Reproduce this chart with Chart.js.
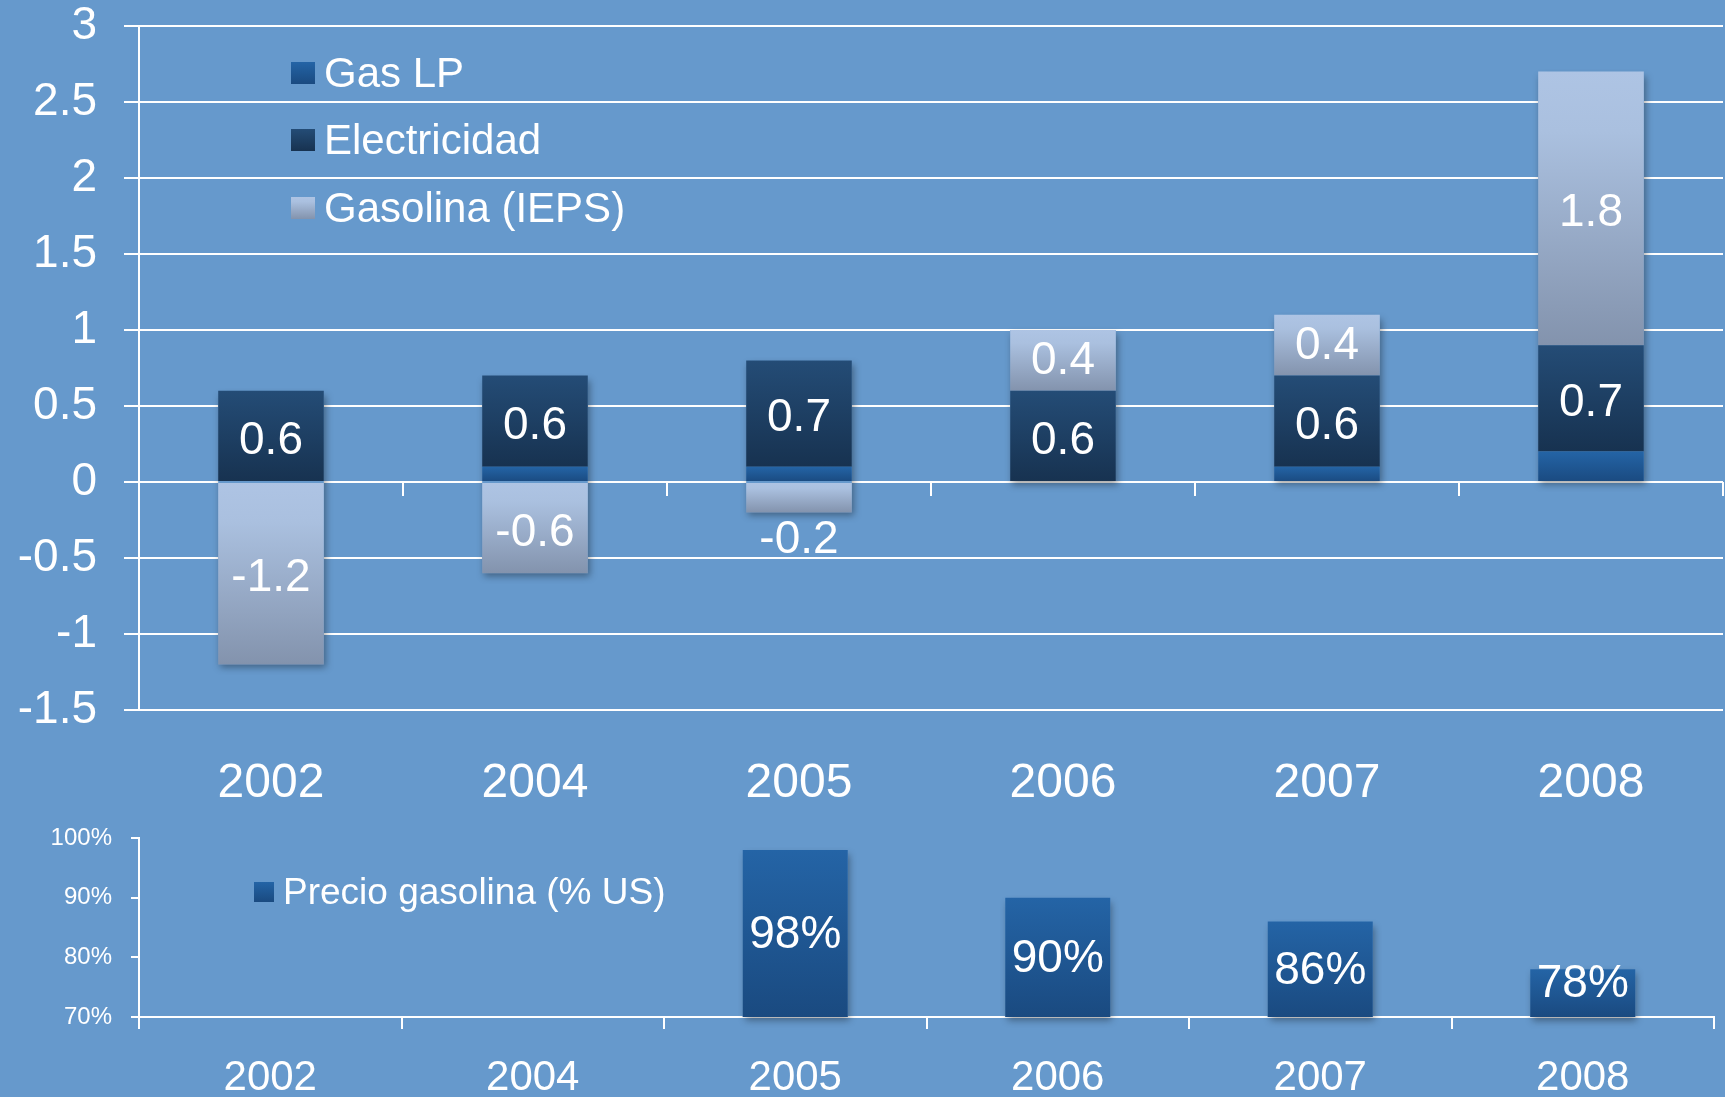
<!DOCTYPE html>
<html>
<head>
<meta charset="utf-8">
<script src="https://cdn.jsdelivr.net/npm/chart.js@4/dist/chart.umd.min.js"></script>
<style>
  html, body { margin: 0; padding: 0; background: #6699cc; overflow: hidden; }
  #wrap { position: relative; width: 1725px; height: 1097px; font-family: "Liberation Sans", Arial, sans-serif; color: #fff; }
  #topChart { position: absolute; left: 0; top: 0; }
  #bottomChart { position: absolute; left: 0; top: 800px; }
  .legend { position: absolute; }
  .legend .item { display: flex; align-items: center; white-space: nowrap; }
  .legend .box { display: inline-block; margin-right: 9px; }
  #topLegend { left: 291px; top: 39px; font-size: 42px; }
  #topLegend .item { height: 67.5px; }
  #topLegend .box { width: 24px; height: 22px; }
  #bottomLegend { left: 254px; top: 870px; font-size: 37px; }
  #bottomLegend .item { height: 44px; }
  #bottomLegend .box { width: 20px; height: 20px; }
</style>
</head>
<body>
<div id="wrap">
  <canvas id="topChart" width="1725" height="800"></canvas>
  <canvas id="bottomChart" width="1725" height="297"></canvas>
  <div class="legend" id="topLegend"></div>
  <div class="legend" id="bottomLegend"></div>
</div>
<script>
// data
const years = ['2002', '2004', '2005', '2006', '2007', '2008'];
const gasLP = [0, 0.1, 0.1, 0, 0.1, 0.2];
const electricidad = [0.6, 0.6, 0.7, 0.6, 0.6, 0.7];
const gasolinaIEPS = [-1.2, -0.6, -0.2, 0.4, 0.4, 1.8];
const precioGasolina = [null, null, 0.98, 0.90, 0.86, 0.78];
const topTicks = [-1.5, -1, -0.5, 0, 0.5, 1, 1.5, 2, 2.5, 3];
const bottomTicks = [0.7, 0.8, 0.9, 1.0];

// colour ramps, top -> bottom of each bar
const rampGasLP = [[0, '#2464a6'], [1, '#1a4a80']];
const rampElec = [[0, '#244c76'], [1, '#173250']];
const rampGasolina = [[0, '#aec4e4'], [0.22, '#aac0df'], [1, '#8393ad']];

function cssRamp(stops) {
  return 'linear-gradient(to bottom,' + stops.map(s => s[1] + ' ' + (s[0] * 100) + '%').join(',') + ')';
}

// gradient for one bar segment, built from the value scale
function segmentFill(stops) {
  return function (c) {
    const chart = c.chart;
    const y = chart.scales.y;
    const v = c.raw;
    if (!y || v === null || v === undefined) return stops[0][1];
    let base = 0;
    const stacked = chart.options.scales.y.stacked;
    if (stacked) {
      for (let i = 0; i < c.datasetIndex; i++) {
        const o = chart.data.datasets[i].data[c.dataIndex] || 0;
        if ((o < 0) === (v < 0)) base += o;
      }
    } else {
      base = y.getBaseValue();
    }
    const p1 = y.getPixelForValue(base);
    const p2 = y.getPixelForValue(stacked ? base + v : v);
    if (!isFinite(p1) || !isFinite(p2) || p1 === p2) return stops[0][1];
    const g = chart.ctx.createLinearGradient(0, Math.min(p1, p2), 0, Math.max(p1, p2));
    stops.forEach(s => g.addColorStop(s[0], s[1]));
    return g;
  };
}

const fmtPlain = v => String(v);
const fmtPct = v => Math.round(v * 100) + '%';

function clampToArea(chart, px) {
  return Math.max(chart.chartArea.top, Math.min(chart.chartArea.bottom, px));
}

// soft drop shadow under each whole stack, then white value labels on top
function makeBarExtras(size, shift, format) {
  return {
    id: 'barExtras',
    beforeDatasetsDraw(chart) {
      const ctx = chart.ctx;
      ctx.save();
      ctx.shadowColor = 'rgba(0, 0, 0, 0.35)';
      ctx.shadowBlur = 7;
      ctx.shadowOffsetX = 2;
      ctx.shadowOffsetY = 4;
      ctx.fillStyle = '#6699cc';
      chart.data.labels.forEach((lab, i) => {
        let top = Infinity, bottom = -Infinity, x = 0, w = 0;
        chart.data.datasets.forEach((ds, di) => {
          const v = ds.data[i];
          if (v === null || v === 0) return;
          const bar = chart.getDatasetMeta(di).data[i];
          const a = clampToArea(chart, bar.y), b = clampToArea(chart, bar.base);
          top = Math.min(top, a, b);
          bottom = Math.max(bottom, a, b);
          x = bar.x; w = bar.width;
        });
        if (bottom > top) ctx.fillRect(x - w / 2, top, w, bottom - top);
      });
      ctx.restore();
    },
    afterDatasetsDraw(chart) {
      const ctx = chart.ctx;
      ctx.save();
      ctx.font = size + 'px "Liberation Sans", Arial, sans-serif';
      ctx.fillStyle = '#fff';
      ctx.textAlign = 'center';
      ctx.textBaseline = 'middle';
      chart.data.datasets.forEach((ds, di) => {
        if (ds.hideLabels) return;
        const meta = chart.getDatasetMeta(di);
        meta.data.forEach((bar, i) => {
          const v = ds.data[i];
          if (v === null || v === 0) return;
          const yEnd = clampToArea(chart, bar.y);
          const yBase = clampToArea(chart, bar.base);
          const h = Math.abs(yBase - yEnd);
          let y = (yEnd + yBase) / 2;
          if (v < 0 && h < size) y = yEnd + size / 2;
          else if (v > 0 && h < size * 1.5) y = yBase - size * 0.75;
          ctx.fillText(format(v), bar.x, y + shift);
        });
      });
      ctx.restore();
    }
  };
}

const white = '#ffffff';
const fontFamily = '"Liberation Sans", Arial, sans-serif';

const topChart = new Chart(document.getElementById('topChart'), {
  type: 'bar',
  data: {
    labels: years,
    datasets: [
      { label: 'Gas LP', data: gasLP, backgroundColor: segmentFill(rampGasLP), ramp: rampGasLP, hideLabels: true },
      { label: 'Electricidad', data: electricidad, backgroundColor: segmentFill(rampElec), ramp: rampElec },
      { label: 'Gasolina (IEPS)', data: gasolinaIEPS, backgroundColor: segmentFill(rampGasolina), ramp: rampGasolina }
    ]
  },
  options: {
    responsive: false,
    animation: false,
    layout: { padding: { top: 0, right: 2, left: 0, bottom: 0 } },
    datasets: { bar: { barPercentage: 0.4, categoryPercentage: 1 } },
    plugins: {
      legend: { display: false },
      tooltip: { enabled: false }
    },
    scales: {
      x: {
        stacked: true,
        grid: { display: false, drawTicks: false },
        border: { display: false },
        ticks: { color: white, font: { family: fontFamily, size: 48 }, padding: 45 },
        afterFit(s) { s.height = 90; }
      },
      xZero: {
        type: 'category',
        position: { y: 0 },
        offset: true,
        grid: { offset: true, drawOnChartArea: false, drawTicks: true, tickLength: 14, color: white, lineWidth: 2 },
        border: { display: false },
        ticks: { display: false },
        afterFit(s) { s.height = 0; }
      },
      y: {
        stacked: true,
        min: -1.5,
        max: 3,
        afterBuildTicks(s) { s.ticks = topTicks.map(v => ({ value: v })); },
        ticks: {
          color: white,
          font: { family: fontFamily, size: 46, lineHeight: 1 },
          padding: 27,
          callback: v => String(v)
        },
        grid: { color: white, lineWidth: 2, tickLength: 15 },
        border: { color: white, width: 2 },
        afterFit(s) { s.width = 139; s.paddingTop = 26; s.paddingBottom = 24; }
      }
    }
  },
  plugins: [makeBarExtras(46, 5, fmtPlain)]
});

const bottomChart = new Chart(document.getElementById('bottomChart'), {
  type: 'bar',
  data: {
    labels: years,
    datasets: [
      { label: 'Precio gasolina (% US)', data: precioGasolina, backgroundColor: segmentFill(rampGasLP), ramp: rampGasLP }
    ]
  },
  options: {
    responsive: false,
    animation: false,
    layout: { padding: { top: 38, right: 11, left: 0, bottom: 0 } },
    datasets: { bar: { barPercentage: 0.4, categoryPercentage: 1 } },
    plugins: {
      legend: { display: false },
      tooltip: { enabled: false }
    },
    scales: {
      x: {
        grid: { offset: true, drawOnChartArea: false, drawTicks: true, tickLength: 12, color: white, lineWidth: 2 },
        border: { color: white, width: 2 },
        ticks: { color: white, font: { family: fontFamily, size: 42 }, padding: 24 },
        afterFit(s) { s.height = 80; }
      },
      y: {
        min: 0.7,
        max: 1,
        afterBuildTicks(s) { s.ticks = bottomTicks.map(v => ({ value: v })); },
        ticks: {
          color: white,
          font: { family: fontFamily, size: 24, lineHeight: 1 },
          padding: 19,
          callback: v => fmtPct(v)
        },
        grid: { drawOnChartArea: false, color: white, lineWidth: 2, tickLength: 8 },
        border: { color: white, width: 2 },
        afterFit(s) { s.width = 139; s.paddingTop = 12; s.paddingBottom = 12; }
      }
    }
  },
  plugins: [makeBarExtras(46, 2, fmtPct)]
});

// html legends built from the chart datasets
function buildLegend(chart, el) {
  chart.data.datasets.forEach(ds => {
    const row = document.createElement('div');
    row.className = 'item';
    const box = document.createElement('span');
    box.className = 'box';
    box.style.background = cssRamp(ds.ramp);
    const txt = document.createElement('span');
    txt.textContent = ds.label;
    row.appendChild(box);
    row.appendChild(txt);
    el.appendChild(row);
  });
}
buildLegend(topChart, document.getElementById('topLegend'));
buildLegend(bottomChart, document.getElementById('bottomLegend'));
</script>
</body>
</html>
